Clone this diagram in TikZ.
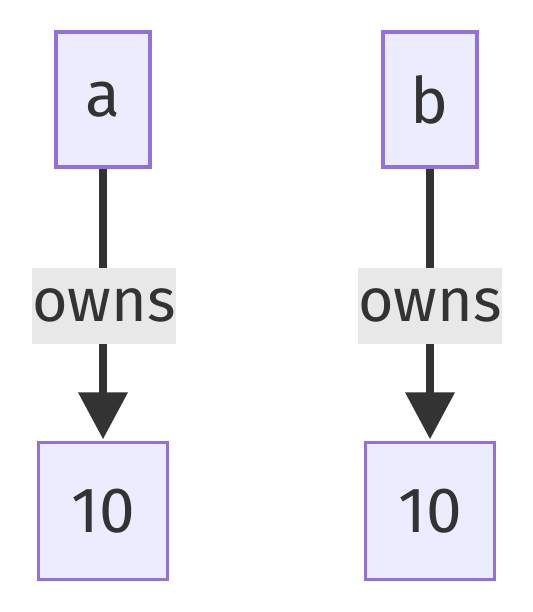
\documentclass[tikz,border=0pt]{standalone}
\usepackage{fontspec}
\setmainfont{Fira Sans}
\usetikzlibrary{arrows.meta}
\definecolor{boxfill}{HTML}{ECECFF}
\definecolor{boxline}{HTML}{9370DB}
\definecolor{edgecol}{HTML}{333333}
\definecolor{lblbg}{HTML}{E8E8E8}
\definecolor{txt}{HTML}{333333}
\tikzset{
  entity/.style={draw=boxline, fill=boxfill, line width=3.5pt, inner sep=0pt,
    text=txt, font=\fontsize{64}{64}\selectfont},
  edgelbl/.style={fill=lblbg, inner sep=0pt, minimum width=144pt, minimum height=76pt,
    text=txt, font=\fontsize{61}{61}\selectfont},
  owns/.style={draw=edgecol, line width=7.5pt,
    -{Triangle[length=47pt,width=48pt]}, shorten >=1.5pt},
}
\begin{document}
\begin{tikzpicture}[x=1pt,y=-1pt]
  \useasboundingbox (0,0) rectangle (532,612);
  \node[entity, minimum width=94pt, minimum height=135pt] (a) at (103,99.5) {a};
  \node[entity, minimum width=94pt, minimum height=135pt] (b) at (430,99.5) {b};
  \node[entity, minimum width=129pt, minimum height=137pt] (a10) at (103,511) {10};
  \node[entity, minimum width=129pt, minimum height=137pt] (b10) at (430,511) {10};
  \draw[owns] (a) -- (a10);
  \draw[owns] (b) -- (b10);
  \node[edgelbl] (la) at (104,305.5) {owns};
  \node[edgelbl] (lb) at (430,305.5) {owns};
\end{tikzpicture}
\end{document}
